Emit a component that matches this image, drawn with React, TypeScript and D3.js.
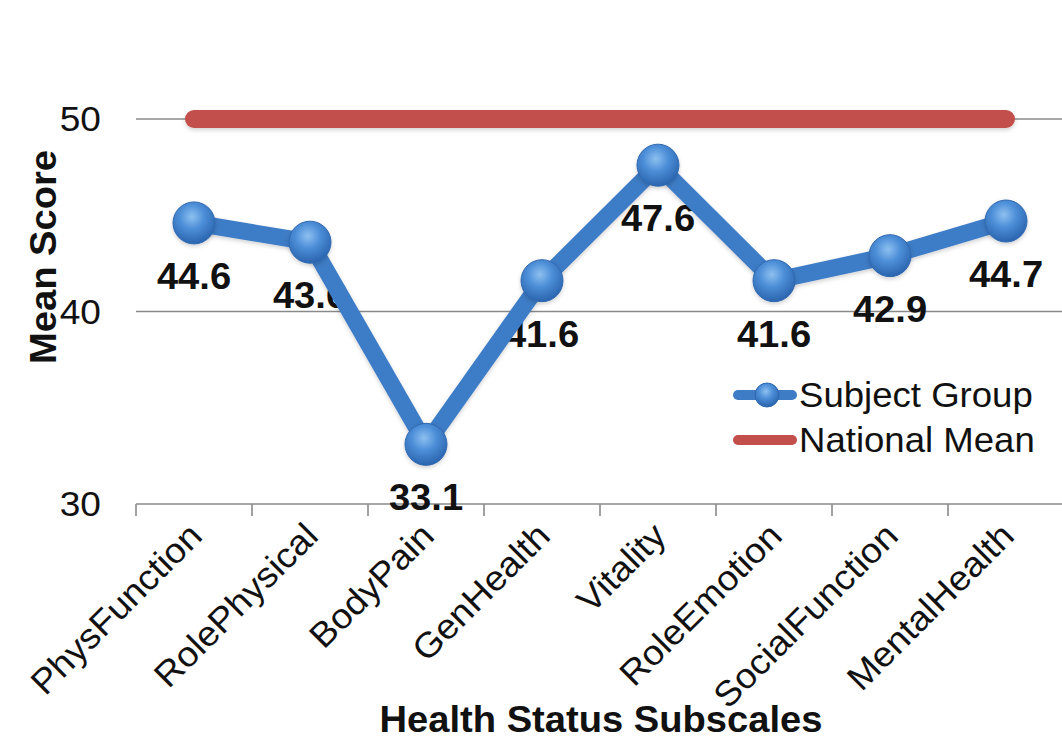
import React from "react";
import * as d3 from "d3";

// Health status subscales and mean scores
const categories = [
  "PhysFunction",
  "RolePhysical",
  "BodyPain",
  "GenHealth",
  "Vitality",
  "RoleEmotion",
  "SocialFunction",
  "MentalHealth",
];
const subjectGroup = [44.6, 43.6, 33.1, 41.6, 47.6, 41.6, 42.9, 44.7];
const nationalMean = [50, 50, 50, 50, 50, 50, 50, 50];
const yTicks = [30, 40, 50];
const seriesNames = ["Subject Group", "National Mean"];

const W = 1062;
const H = 739;
const FONT = "'Liberation Sans', Arial, Helvetica, sans-serif";
const SX = 1.06; // slightly wide text rendering

type LabelProps = {
  x: number;
  y: number;
  rotate?: number;
  size: number;
  bold?: boolean;
  anchor?: "start" | "middle" | "end";
  children: React.ReactNode;
};

function Label({ x, y, rotate = 0, size, bold, anchor = "start", children }: LabelProps) {
  return (
    <text
      transform={`translate(${x},${y}) rotate(${rotate}) scale(${SX},1)`}
      textAnchor={anchor}
      fontSize={size}
      fontWeight={bold ? "bold" : "normal"}
      fill="#111"
    >
      {children}
    </text>
  );
}

export default function App() {
  const x = d3.scaleBand<string>().domain(categories).range([136, 1064]);
  const y = d3.scaleLinear().domain([30, 50]).range([504, 119]);
  const cx = (c: string) => (x(c) as number) + x.bandwidth() / 2;

  const line = d3
    .line<number>()
    .x((_, i) => cx(categories[i]))
    .y((v) => y(v));

  const bandEdges = categories.map((c) => x(c) as number).concat([x.range()[1]]);

  return (
    <svg
      width={W}
      height={H}
      style={{ position: "absolute", left: 0, top: 0, background: "#fff" }}
      fontFamily={FONT}
    >
      <defs>
        <radialGradient id="ball" cx="45%" cy="35%" r="65%">
          <stop offset="0%" stopColor="#8ec0f0" />
          <stop offset="45%" stopColor="#4d8fd8" />
          <stop offset="100%" stopColor="#2a64ae" />
        </radialGradient>
        <filter id="soft" filterUnits="userSpaceOnUse" x="0" y="0" width={W} height={H}>
          <feDropShadow dx="0" dy="2" stdDeviation="2" floodColor="#000" floodOpacity="0.18" />
        </filter>
      </defs>

      {/* horizontal gridlines */}
      {yTicks.map((t) => (
        <line key={t} x1={136} x2={W} y1={y(t)} y2={y(t)} stroke="#8a8a8a" strokeWidth={1.6} />
      ))}

      {/* category tick marks */}
      {bandEdges.map((e, i) => (
        <line key={i} x1={e} x2={e} y1={y(30)} y2={y(30) + 12} stroke="#8a8a8a" strokeWidth={1.6} />
      ))}

      {/* y tick labels */}
      {yTicks.map((t) => (
        <Label key={t} x={101} y={y(t) + 12} size={35} anchor="end">
          {t}
        </Label>
      ))}

      {/* category labels */}
      {categories.map((c) => (
        <Label key={c} x={cx(c) + 10} y={538} rotate={-45} size={35} anchor="end">
          {c}
        </Label>
      ))}

      {/* axis titles */}
      <Label x={56} y={257} rotate={-90} size={36} bold anchor="middle">
        Mean Score
      </Label>
      <Label x={601} y={732} size={36} bold anchor="middle">
        Health Status Subscales
      </Label>

      {/* data labels */}
      {subjectGroup.map((v, i) => (
        <Label key={i} x={cx(categories[i])} y={y(v) + 66} size={36} bold anchor="middle">
          {v.toFixed(1)}
        </Label>
      ))}

      {/* national mean line */}
      <path
        d={line(nationalMean) || ""}
        fill="none"
        stroke="#c24f4c"
        strokeWidth={18}
        strokeLinecap="round"
        filter="url(#soft)"
      />

      {/* subject group line */}
      <path
        d={line(subjectGroup) || ""}
        fill="none"
        stroke="#3e7cc6"
        strokeWidth={17}
        strokeLinejoin="round"
        filter="url(#soft)"
      />
      {subjectGroup.map((v, i) => (
        <circle
          key={i}
          cx={cx(categories[i])}
          cy={y(v)}
          r={21}
          fill="url(#ball)"
          stroke="#2f68b0"
          strokeWidth={1}
          filter="url(#soft)"
        />
      ))}

      {/* legend */}
      <g>
        <line x1={738} x2={792} y1={395} y2={395} stroke="#3e7cc6" strokeWidth={10} strokeLinecap="round" />
        <circle cx={767} cy={395} r={12} fill="url(#ball)" stroke="#2f68b0" strokeWidth={1} />
        <Label x={799} y={407} size={34.5}>
          {seriesNames[0]}
        </Label>
        <line x1={738} x2={792} y1={440} y2={440} stroke="#c24f4c" strokeWidth={10} strokeLinecap="round" />
        <Label x={799} y={452} size={34.5}>
          {seriesNames[1]}
        </Label>
      </g>
    </svg>
  );
}
